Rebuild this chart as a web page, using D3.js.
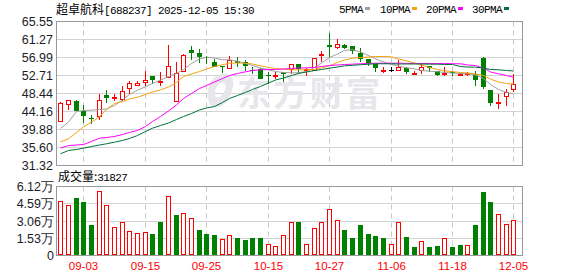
<!DOCTYPE html>
<html>
<head>
<meta charset="utf-8">
<script src="https://cdn.jsdelivr.net/npm/d3@7"></script>
<style>
body { margin: 0; background: #fff; }
svg { display: block; }
</style>
</head>
<body>
<div id="chart"></div>
<script>
// x axis ticks (candle index -> label)
var tickIdx = [3, 11, 19, 27, 35, 43, 51, 59];
var tickLabels = ["09-03", "09-15", "09-25", "10-15", "10-27", "11-06", "11-18", "12-05"];
var priceTicks = [65.55, 61.27, 56.99, 52.71, 48.44, 44.16, 39.88, 35.60, 31.32];
var volTicks = [0, 15300, 30600, 45900, 61200];
var volTickLabels = ["0", "1.53万", "3.06万", "4.59万", "6.12万"];

var open = [41.95, 45.99, 46.77, 44.23, 42.56, 43.14, 48.13, 47.56, 47.18, 49.70,
  50.55, 51.12, 52.48, 51.35, 52.32, 46.77, 53.74, 58.66, 58.18, 57.23,
  56.04, 55.09, 54.45, 56.21, 55.88, 54.07, 54.31, 52.72, 52.70, 53.50,
  54.31, 55.50, 54.10, 54.07, 57.70, 59.92, 59.60, 60.08, 59.84, 58.01,
  56.52, 55.50, 53.95, 54.05, 54.07, 54.54, 53.12, 54.07, 54.93, 53.90,
  53.15, 53.50, 52.90, 53.00, 53.12, 56.83, 49.15, 46.30, 47.79, 49.39];
var high = [46.30, 47.00, 47.00, 45.82, 43.44, 48.36, 49.31, 48.36, 50.10, 51.36,
  51.36, 53.74, 52.71, 53.45, 60.08, 55.97, 57.87, 59.68, 59.06, 57.30,
  56.68, 55.09, 57.30, 57.06, 56.45, 54.85, 54.38, 53.50, 53.50, 53.50,
  55.50, 55.50, 54.45, 56.83, 58.49, 62.77, 61.44, 60.10, 59.84, 59.25,
  56.52, 55.50, 54.85, 54.69, 56.28, 54.85, 53.90, 55.50, 54.93, 53.90,
  54.85, 53.90, 53.26, 53.60, 53.90, 57.06, 49.15, 48.36, 49.55, 53.12];
var low = [41.90, 44.63, 44.30, 41.42, 41.14, 42.18, 46.22, 46.70, 46.77, 48.36,
  50.17, 50.17, 50.74, 50.10, 52.30, 46.42, 53.50, 56.45, 55.73, 55.50,
  54.69, 53.36, 54.45, 54.69, 53.90, 53.12, 51.93, 50.74, 51.93, 51.12,
  53.12, 53.12, 52.71, 54.07, 55.88, 57.06, 59.06, 59.06, 57.82, 55.88,
  54.97, 53.50, 53.26, 53.50, 53.67, 53.12, 53.12, 53.12, 53.50, 52.71,
  52.71, 52.71, 52.55, 52.60, 50.10, 49.55, 45.35, 44.80, 45.58, 48.75];
var close = [46.22, 46.94, 44.32, 43.14, 42.33, 46.94, 47.32, 47.72, 49.08, 50.90,
  51.00, 51.69, 51.53, 51.45, 55.09, 53.36, 57.63, 58.18, 57.06, 56.76,
  54.69, 54.93, 56.45, 55.73, 55.09, 53.90, 51.93, 52.48, 52.85, 53.12,
  55.50, 54.30, 54.32, 56.83, 57.87, 59.60, 60.20, 59.20, 58.49, 56.68,
  55.73, 54.45, 54.05, 54.05, 54.85, 53.50, 53.26, 54.85, 54.54, 52.88,
  53.30, 53.20, 53.05, 53.30, 51.53, 49.93, 46.22, 46.45, 48.75, 50.74];
var volume = [48600, 45000, 50700, 47700, 27000, 57600, 45000, 24900, 29400, 21900,
  20400, 21000, 18900, 29400, 52500, 36000, 37500, 33600, 22500, 18900,
  18000, 14400, 18600, 15600, 13500, 15600, 15600, 9900, 8100, 18600,
  29400, 29400, 10500, 24000, 29400, 41400, 31500, 22500, 15600, 27000,
  18900, 17100, 15600, 10500, 29400, 16500, 7500, 12900, 7500, 8100,
  15900, 7500, 9000, 9000, 27000, 56400, 47400, 36600, 27600, 31827];

var ma5 = [40.12, 41.66, 44.16, 44.39, 44.47, 44.63, 44.75, 45.58, 46.89, 48.20,
  49.22, 50.03, 50.81, 51.60, 52.48, 53.19, 54.14, 55.57, 56.64, 57.06,
  56.87, 56.45, 56.45, 56.11, 55.57, 55.09, 54.50, 54.07, 53.67, 53.43,
  53.36, 53.36, 53.67, 54.62, 55.69, 56.99, 57.82, 58.66, 58.85, 58.30,
  57.47, 56.68, 55.92, 55.33, 54.97, 54.54, 54.31, 53.90, 53.74, 53.62,
  53.43, 53.26, 53.19, 53.12, 52.83, 52.00, 50.57, 49.39, 48.68, 48.36];
var ma10 = [36.91, 37.67, 39.17, 40.47, 41.66, 42.85, 44.63, 46.06, 46.53, 47.13,
  47.56, 48.20, 48.79, 49.27, 49.98, 51.05, 52.48, 53.07, 53.67, 54.26,
  54.85, 55.26, 55.64, 55.69, 55.64, 55.45, 55.02, 54.62, 54.38, 54.21,
  54.09, 54.07, 54.07, 54.14, 54.50, 55.04, 55.80, 56.40, 56.80, 56.99,
  57.11, 57.23, 57.23, 57.16, 56.64, 56.21, 55.69, 55.21, 54.62, 54.14,
  53.83, 53.62, 53.43, 53.31, 53.07, 52.71, 51.88, 51.17, 50.81, 50.65];
var ma20 = [35.48, 36.07, 36.19, 36.31, 37.03, 37.81, 37.98, 38.22, 38.69, 39.17,
  39.64, 40.59, 41.78, 42.97, 44.28, 45.70, 47.25, 48.44, 49.62, 50.34,
  51.17, 52.00, 52.71, 53.19, 53.59, 53.90, 54.07, 54.14, 54.14, 54.26,
  54.38, 54.50, 54.54, 54.62, 54.85, 55.09, 55.21, 55.33, 55.40, 55.50,
  55.57, 55.64, 55.64, 55.64, 55.64, 55.61, 55.57, 55.57, 55.57, 55.57,
  55.57, 55.52, 55.50, 55.21, 55.09, 54.50, 53.55, 53.12, 52.71, 52.31];
var ma30 = [34.10, 34.89, 35.12, 35.43, 35.84, 36.19, 36.48, 36.86, 37.26, 37.74,
  38.45, 39.40, 40.19, 40.83, 41.42, 42.25, 42.97, 43.68, 44.51, 44.99,
  45.35, 46.30, 47.25, 47.96, 48.68, 49.39, 50.10, 50.93, 51.64, 52.12,
  52.71, 53.19, 53.55, 53.90, 54.14, 54.45, 54.73, 55.02, 55.14, 55.28,
  55.40, 55.50, 55.50, 55.50, 55.45, 55.45, 55.45, 55.45, 55.40, 55.40,
  55.33, 55.33, 54.85, 54.73, 54.69, 54.50, 54.14, 54.07, 53.90, 53.78];

var maNames = ["5PMA", "10PMA", "20PMA", "30PMA"];
var maColors = ["#a0a0a0", "#f2a30f", "#ff00ff", "#00713a"];

var RED = "#ff0000", GREEN = "#008000";
var width = 578, height = 276;
var left = 56.5, right = 522.5;
var pTop = 21.5, pBot = 165.5, vTop = 186.5, vBot = 255.5;

var svg = d3.select("#chart").append("svg")
    .attr("width", width)
    .attr("height", height)
    .style("font-family", "'Liberation Sans', Arial, sans-serif");

var x = d3.scaleBand().domain(d3.range(close.length)).range([56.5, 517.3]);
function cx(i) { return Math.round(x(i) + x.bandwidth() / 2); }

var y = d3.scaleLinear().domain([31.32, 65.55]).range([pBot, pTop]);
var yv = d3.scaleLinear().domain([0, 61200]).range([vBot, vTop]);

// horizontal grid
svg.selectAll(".pgrid").data(priceTicks).enter().append("line")
    .attr("x1", left).attr("x2", right)
    .attr("y1", function(d) { return Math.round(y(d) - 0.5) + 0.5; })
    .attr("y2", function(d) { return Math.round(y(d) - 0.5) + 0.5; })
    .attr("stroke", "#d3d3d3");
svg.selectAll(".vgrid").data(volTicks).enter().append("line")
    .attr("x1", left).attr("x2", right)
    .attr("y1", function(d) { return Math.round(yv(d) - 0.5) + 0.5; })
    .attr("y2", function(d) { return Math.round(yv(d) - 0.5) + 0.5; })
    .attr("stroke", "#d3d3d3");

// vertical dashed grid
[[pTop, pBot], [vTop, vBot]].forEach(function(r) {
  svg.selectAll(null).data(tickIdx).enter().append("line")
      .attr("x1", function(d) { return cx(d) + 0.5; })
      .attr("x2", function(d) { return cx(d) + 0.5; })
      .attr("y1", r[0]).attr("y2", r[1])
      .attr("stroke", "#c8c8c8")
      .attr("stroke-dasharray", "5,4");
});

// watermark
var wm = svg.append("g").attr("fill", "#e6e6eb");
wm.append("path")
    .attr("d", "M222,74 C210,76 204,92 210,104 C214,110 222,108 228,100 C234,90 236,78 228,74 Z M219,84 C224,80 228,84 224,92 C221,98 215,100 215,94 C215,90 216,87 219,84 Z")
    .attr("fill-rule", "evenodd");
wm.append("text")
    .attr("x", 237).attr("y", 106)
    .style("font-family", "'Noto Sans CJK SC'")
    .style("font-weight", "bold")
    .style("font-size", "34px")
    .attr("textLength", 143)
    .text("东方财富");

// panel borders
svg.append("rect").attr("x", left).attr("y", pTop).attr("width", right - left).attr("height", pBot - pTop)
    .attr("fill", "none").attr("stroke", "#999");
svg.append("rect").attr("x", left).attr("y", vTop).attr("width", right - left).attr("height", vBot - vTop)
    .attr("fill", "none").attr("stroke", "#999");

function candleColor(i) {
  if (close[i] > open[i]) return RED;
  if (close[i] < open[i]) return GREEN;
  return "#000";
}
function volColor(i) {
  if (i === 0) return close[i] >= open[i] ? RED : GREEN;
  return close[i] >= close[i - 1] ? RED : GREEN;
}

var idx = d3.range(close.length);

// candles
var candles = svg.append("g");
candles.selectAll(".wick").data(idx).enter().append("line")
    .attr("x1", function(i) { return cx(i) + 0.5; })
    .attr("x2", function(i) { return cx(i) + 0.5; })
    .attr("y1", function(i) { return Math.round(y(high[i])); })
    .attr("y2", function(i) { return Math.round(y(low[i])); })
    .attr("stroke", candleColor);

candles.selectAll(".body").data(idx).enter().append("rect")
    .attr("x", function(i) { return close[i] > open[i] ? cx(i) - 1.5 : cx(i) - 2; })
    .attr("y", function(i) {
      var t = Math.round(y(Math.max(open[i], close[i])));
      return close[i] > open[i] ? t + 0.5 : t;
    })
    .attr("width", function(i) { return close[i] > open[i] ? 4 : 5; })
    .attr("height", function(i) {
      var h = Math.round(y(Math.min(open[i], close[i]))) - Math.round(y(Math.max(open[i], close[i])));
      return close[i] > open[i] ? Math.max(h, 1) : Math.max(h, 1);
    })
    .attr("fill", function(i) { return close[i] > open[i] ? "#fff" : candleColor(i); })
    .attr("stroke", function(i) { return close[i] > open[i] ? RED : "none"; });

// volume bars
svg.append("g").selectAll("rect").data(idx).enter().append("rect")
    .attr("x", function(i) { return volColor(i) === RED ? cx(i) - 1.5 : cx(i) - 2; })
    .attr("y", function(i) { return Math.round(yv(volume[i])) + (volColor(i) === RED ? 0.5 : 0); })
    .attr("width", function(i) { return volColor(i) === RED ? 4 : 5; })
    .attr("height", function(i) { return Math.round(vBot - 0.5) - Math.round(yv(volume[i])) - (volColor(i) === RED ? 1 : 0); })
    .attr("fill", function(i) { return volColor(i) === RED ? "#fff" : GREEN; })
    .attr("stroke", function(i) { return volColor(i) === RED ? RED : "none"; });

// moving averages
var mas = [ma5, ma10, ma20, ma30];
var line = d3.line().x(function(d, i) { return cx(i) + 0.5; }).y(function(d) { return y(d); });
mas.forEach(function(m, k) {
  svg.append("path").datum(m)
      .attr("d", line)
      .attr("fill", "none")
      .attr("stroke", maColors[k])
      .attr("stroke-width", 1);
});

// y axis labels
svg.selectAll(".plab").data(priceTicks).enter().append("text")
    .attr("x", 53).attr("y", function(d) { return y(d); })
    .attr("dy", "0.36em")
    .attr("text-anchor", "end")
    .style("font-size", "12.5px")
    .attr("fill", "#1c1c28")
    .text(function(d) { return d.toFixed(2); });

svg.selectAll(".vlab").data(volTicks).enter().append("text")
    .attr("x", 54).attr("y", function(d) { return yv(d); })
    .attr("dy", "0.36em")
    .attr("text-anchor", "end")
    .style("font-size", "12.5px")
    .attr("fill", "#1c1c28")
    .text(function(d, i) { return volTickLabels[i]; });

// x axis labels
svg.selectAll(".xlab").data(tickIdx).enter().append("text")
    .attr("x", function(d) { return cx(d) + 0.5; })
    .attr("y", 270)
    .attr("text-anchor", "middle")
    .style("font-size", "11.5px")
    .attr("fill", RED)
    .text(function(d, i) { return tickLabels[i]; });

// title
var title = svg.append("text").attr("x", 56).attr("y", 14).attr("fill", "#000");
title.append("tspan").style("font-family", "'Noto Sans CJK SC'").style("font-size", "12px").text("超卓航科");
title.append("tspan").style("font-family", "'Liberation Mono', monospace").style("font-size", "11px")
    .style("letter-spacing", "-0.6px").text("[688237] 2025-12-05 15:30");

// legend
var legX = [339, 380, 426, 472];
var leg = svg.append("g");
maNames.forEach(function(n, k) {
  var t = leg.append("text").attr("x", legX[k]).attr("y", 13)
      .style("font-family", "'Liberation Mono', monospace")
      .style("font-size", "11px")
      .style("letter-spacing", "-0.6px")
      .attr("fill", "#000")
      .text(n);
  leg.append("rect")
      .attr("x", legX[k] + n.length * 6 + 2).attr("y", 7)
      .attr("width", 5).attr("height", 3)
      .attr("fill", maColors[k]);
});

// volume caption
var cap = svg.append("text").attr("x", 58).attr("y", 181).attr("fill", "#000");
cap.append("tspan").style("font-family", "'Noto Sans CJK SC'").style("font-size", "12px").text("成交量:");
cap.append("tspan").style("font-family", "'Liberation Mono', monospace").style("font-size", "11px")
    .style("letter-spacing", "-0.6px").text(String(volume[volume.length - 1]));
</script>
</body>
</html>
